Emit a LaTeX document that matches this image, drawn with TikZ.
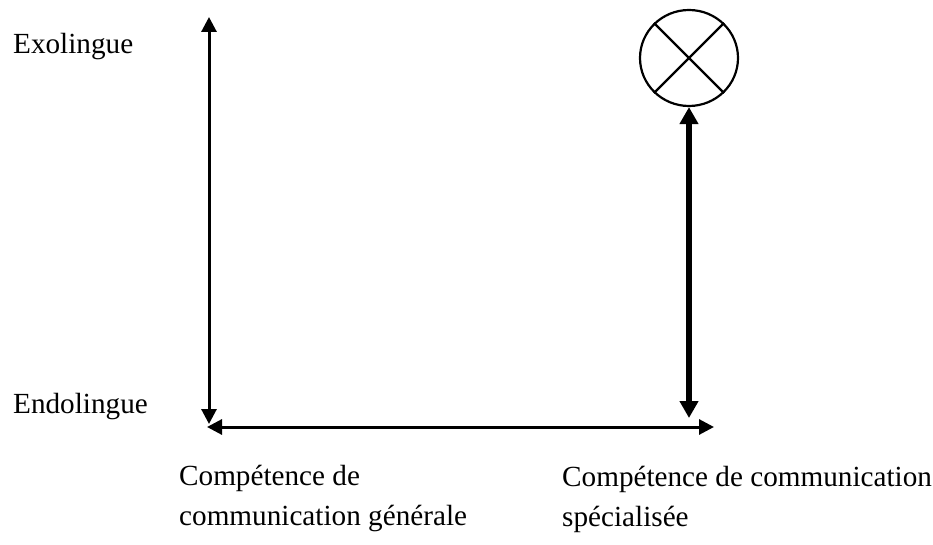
\documentclass[tikz,border=0pt]{standalone}
\usepackage{fontspec}
\setmainfont{Liberation Serif}
\usetikzlibrary{arrows.meta,shapes.geometric}
\begin{document}
\begin{tikzpicture}[x=1bp,y=-1bp,
  label/.style={anchor=base west,inner sep=0pt,font=\fontsize{29.2bp}{40bp}\selectfont},
  thinaxis/.style={line width=3bp,{Triangle[width=15bp,length=15bp]}-{Triangle[width=15bp,length=15bp]}},
  thickaxis/.style={line width=5.5bp,{Triangle[width=18bp,length=17bp]}-{Triangle[width=18bp,length=17bp]}},
  target/.style={ellipse,draw,line width=2.2bp,minimum width=98bp,minimum height=96bp,inner sep=0pt}]
\useasboundingbox (0,0) rectangle (933,545);

% axes end points
\coordinate (top) at (209,17);
\coordinate (bottom) at (209,424);
\coordinate (left) at (207,427);
\coordinate (right) at (714,427);
\coordinate (rbottom) at (689,418);

% vertical and horizontal axes
\draw[thinaxis] (bottom) -- (top);
\draw[thinaxis] (left) -- (right);

% crossed ellipse and the thick arrow beneath it
\node[target] (X) at (689,58) {};
\draw[line width=2.2bp] (X.135) -- (X.-45);
\draw[line width=2.2bp] (X.45) -- (X.-135);
\draw[thickaxis] (rbottom) -- (X.south);

% labels
\node[label] (exo) at (13,53.5) {Exolingue};
\node[label] (endo) at (13,413.5) {Endolingue};
\node[label] (g1) at (179,485) {Compétence de};
\node[label] (g2) at (179,525) {communication générale};
\node[label] (s1) at (562,486) {Compétence de communication};
\node[label] (s2) at (562,526) {spécialisée};
\end{tikzpicture}
\end{document}
